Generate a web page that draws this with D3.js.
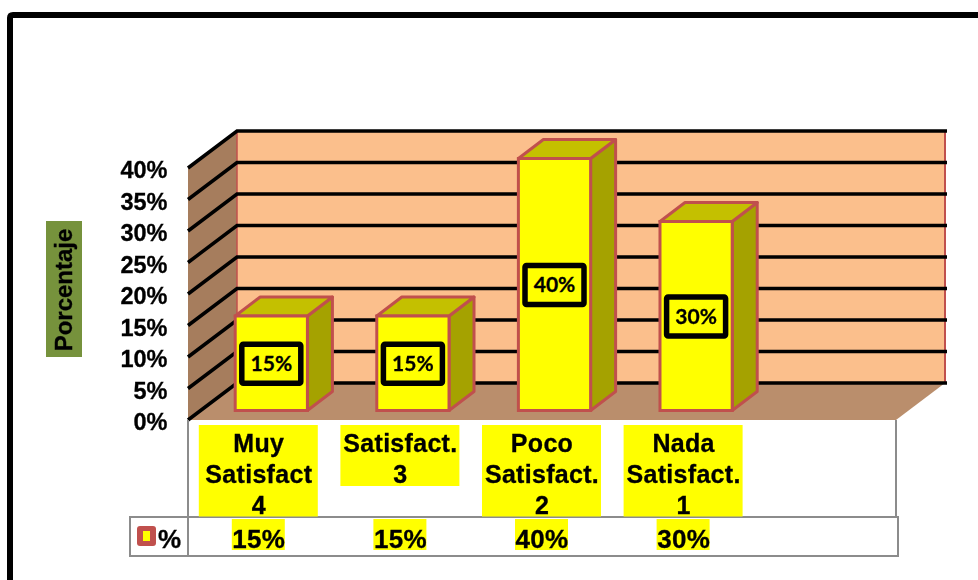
<!DOCTYPE html>
<html>
<head>
<meta charset="utf-8">
<script src="https://cdn.jsdelivr.net/npm/d3@7"></script>
<style>
  html, body { margin: 0; padding: 0; background: #fff; }
  svg { display: block; filter: blur(0.4px); }
  text { font-family: "Liberation Sans", Arial, sans-serif; font-weight: bold; fill: #000; stroke: #000; stroke-width: 0.3; }
  .tag { font-family: Lato, "Open Sans", sans-serif; }
</style>
</head>
<body>
<svg width="978" height="580"></svg>
<script>
const categories = ['Muy Satisfact 4', 'Satisfact. 3', 'Poco Satisfact. 2', 'Nada Satisfact. 1', '']
const categoryLines = [['Muy', 'Satisfact', '4'], ['Satisfact.', '3'], ['Poco', 'Satisfact.', '2'], ['Nada', 'Satisfact.', '1'], []]
const values = [15, 15, 40, 30, null]
const yTicks = [0, 5, 10, 15, 20, 25, 30, 35, 40]

const red = '#c0504d'
const svg = d3.select('svg')

const x = d3.scaleBand().domain(categories).range([188, 896])
const y = d3.scaleLinear().domain([0, 40]).range([420, 168])
const pct = d => d + '%'

// 3d offsets, all from the front plane
const wall = { dx: 49, dy: -37 }
const gap = { dx: 12.5, dy: -9.5 }
const depth = { dx: 25, dy: -19 }
const barWidth = x.bandwidth() * 0.51

// outer frame, open on the right and at the bottom
svg.append('path')
  .attr('d', 'M10 580V18Q10 15 13 15H978')
  .attr('fill', 'none')
  .attr('stroke', '#000')
  .attr('stroke-width', 6)

const poly = pts => 'M' + pts.map(p => p.join(',')).join('L') + 'Z'
const x0 = x.range()[0], x1 = x.range()[1]

// walls and floor
svg.append('path')
  .attr('d', poly([[x0 + wall.dx, y(40) + wall.dy], [x1 + wall.dx, y(40) + wall.dy], [x1 + wall.dx, y(0) + wall.dy], [x0 + wall.dx, y(0) + wall.dy]]))
  .attr('fill', '#fbbf8c')
svg.append('path')
  .attr('d', poly([[x0, y(40)], [x0 + wall.dx, y(40) + wall.dy], [x0 + wall.dx, y(0) + wall.dy], [x0, y(0)]]))
  .attr('fill', '#a67d5d')
svg.append('path')
  .attr('d', poly([[x0, y(0)], [x0 + wall.dx, y(0) + wall.dy], [x1 + wall.dx, y(0) + wall.dy], [x1, y(0)]]))
  .attr('fill', '#ba8e6c')

svg.append('line')
  .attr('x1', x0 + wall.dx).attr('x2', x0 + wall.dx)
  .attr('y1', y(40) + wall.dy).attr('y2', y(0) + wall.dy)
  .attr('stroke', red).attr('stroke-width', 1.5)
svg.append('line')
  .attr('x1', x1 + wall.dx).attr('x2', x1 + wall.dx)
  .attr('y1', y(40) + wall.dy).attr('y2', y(0) + wall.dy)
  .attr('stroke', red).attr('stroke-width', 2)

// grid lines run along the side wall then the back wall
svg.append('g')
  .selectAll('path')
  .data(yTicks)
  .enter()
  .append('path')
  .attr('d', d => `M${x0},${y(d)}L${x0 + wall.dx},${y(d) + wall.dy}H${x1 + wall.dx + 2}`)
  .attr('fill', 'none')
  .attr('stroke', '#000')
  .attr('stroke-width', 3.5)

// bars
const bars = svg.append('g')
  .selectAll('g')
  .data(categories.map((c, i) => ({ c, v: values[i] })).filter(d => d.v !== null))
  .enter()
  .append('g')
  .attr('transform', d => `translate(${x(d.c) + x.bandwidth() / 2 + gap.dx - barWidth / 2},${gap.dy})`)

bars.append('path')
  .attr('d', d => poly([[barWidth, y(d.v)], [barWidth + depth.dx, y(d.v) + depth.dy], [barWidth + depth.dx, y(0) + depth.dy], [barWidth, y(0)]]))
  .attr('fill', '#a5a200')
  .attr('stroke', red).attr('stroke-width', 3).attr('stroke-linejoin', 'round')
bars.append('path')
  .attr('d', d => poly([[0, y(d.v)], [depth.dx, y(d.v) + depth.dy], [barWidth + depth.dx, y(d.v) + depth.dy], [barWidth, y(d.v)]]))
  .attr('fill', '#c4c000')
  .attr('stroke', red).attr('stroke-width', 3).attr('stroke-linejoin', 'round')
bars.append('rect')
  .attr('y', d => y(d.v))
  .attr('width', barWidth)
  .attr('height', d => y(0) - y(d.v))
  .attr('fill', '#ffff00')
  .attr('stroke', red).attr('stroke-width', 3)

// value tags
const tags = bars.append('g')
  .attr('transform', d => `translate(${barWidth / 2},${(y(d.v) + y(0)) / 2 + 0.5})`)
tags.append('rect')
  .attr('x', -29.5).attr('y', -19.5)
  .attr('width', 59).attr('height', 39)
  .attr('rx', 1.5)
  .attr('fill', '#ffff00')
  .attr('stroke', '#000').attr('stroke-width', 5.5)
tags.append('text')
  .attr('class', 'tag')
  .attr('text-anchor', 'middle')
  .attr('y', 7)
  .attr('font-size', 21)
  .text(d => pct(d.v))

// y axis labels
const yAxis = svg.append('g')
  .attr('transform', 'translate(167.5,2)')
  .call(d3.axisLeft(y).tickValues(yTicks).tickFormat(pct).tickSize(0).tickPadding(0))
yAxis.select('.domain').remove()
yAxis.selectAll('text')
  .attr('font-size', 23.5)
  .style('font-family', '"Liberation Sans", Arial, sans-serif')
  .style('font-weight', 'bold')

// y axis title
svg.append('rect')
  .attr('x', 46).attr('y', 221)
  .attr('width', 36).attr('height', 136)
  .attr('fill', '#76923c')
svg.append('text')
  .attr('transform', 'translate(72,290) rotate(-90)')
  .attr('text-anchor', 'middle')
  .attr('font-size', 24)
  .text('Porcentaje')

// data table lines
const grey = '#8c8c8c'
svg.append('path')
  .attr('d', `M${x0},${y(0)}V556M${x1},${y(0)}V517M130,517H898V556H130Z`)
  .attr('fill', 'none')
  .attr('stroke', grey)
  .attr('stroke-width', 2)

// category cells
const cells = svg.append('g')
  .selectAll('g')
  .data(categories.map((c, i) => ({ c, lines: categoryLines[i], v: values[i] })).filter(d => d.v !== null))
  .enter()
  .append('g')
  .attr('transform', d => `translate(${x(d.c) + x.bandwidth() / 2},0)`)

cells.append('rect')
  .attr('x', -60).attr('y', 425)
  .attr('width', 119)
  .attr('height', d => d.lines.length * 30.5)
  .attr('fill', '#ffff00')

cells.selectAll('.cat')
  .data(d => d.lines)
  .enter()
  .append('text')
  .attr('class', 'cat')
  .attr('text-anchor', 'middle')
  .attr('y', (d, i) => 452 + i * 31)
  .attr('font-size', 25)
  .attr('letter-spacing', 0.3)
  .text(d => d)

cells.append('rect')
  .attr('x', -27).attr('y', 519)
  .attr('width', 53).attr('height', 31)
  .attr('fill', '#ffff00')
cells.append('text')
  .attr('text-anchor', 'middle')
  .attr('y', 548)
  .attr('font-size', 26)
  .attr('letter-spacing', 0.3)
  .text(d => pct(d.v))

// legend key
svg.append('rect')
  .attr('x', 137).attr('y', 526)
  .attr('width', 19).attr('height', 20)
  .attr('rx', 3)
  .attr('fill', red)
svg.append('rect')
  .attr('x', 143).attr('y', 531)
  .attr('width', 7).attr('height', 10)
  .attr('fill', '#ffff00')
svg.append('text')
  .attr('x', 158).attr('y', 548)
  .attr('font-size', 26)
  .text('%')
</script>
</body>
</html>
